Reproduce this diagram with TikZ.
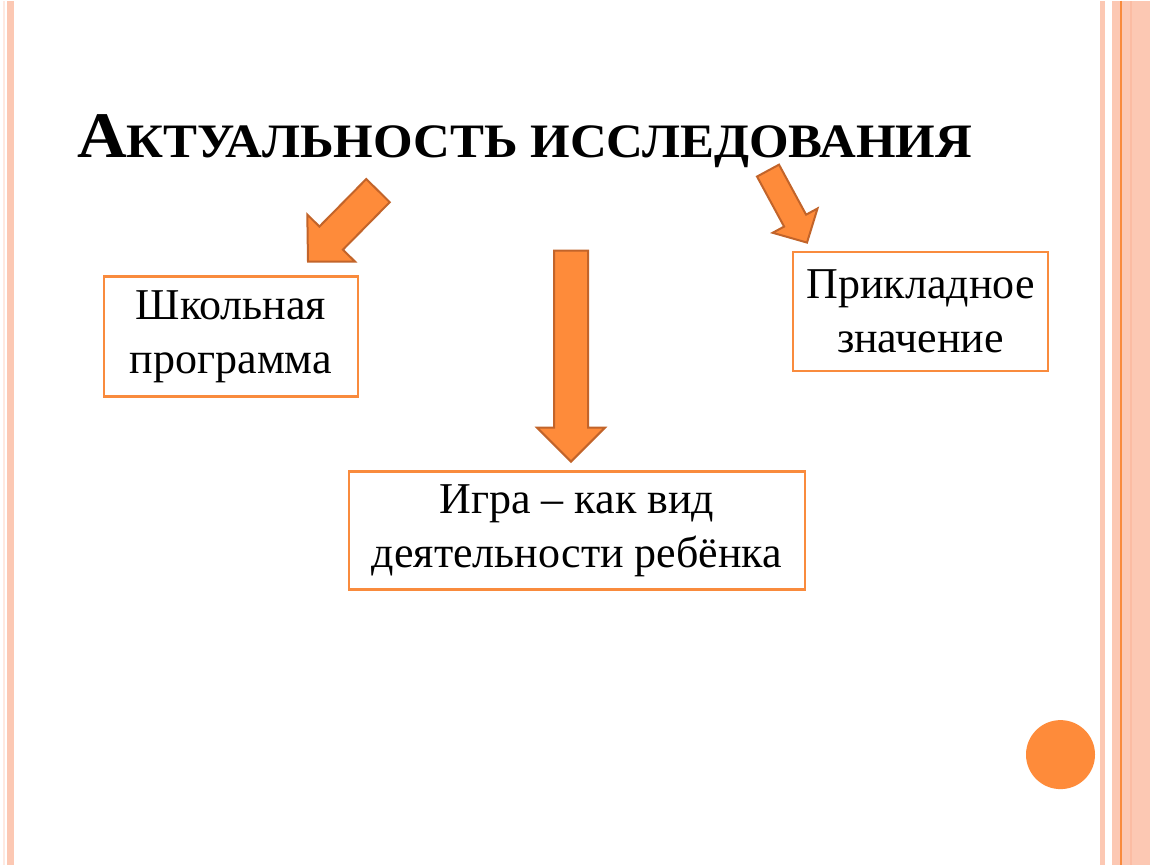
\documentclass[tikz,border=0pt]{standalone}
\usepackage{fontspec}
\setmainfont{Liberation Serif}
\newfontfamily\titlefont[FakeStretch=1.06]{Liberation Serif}
\usepackage{tikz}
\usetikzlibrary{calc}
\definecolor{stripe}{HTML}{FCC8B3}
\definecolor{stripedark}{HTML}{FBBCA3}
\definecolor{accent}{HTML}{F98B3D}
\definecolor{arrowfill}{HTML}{FE8B3A}
\definecolor{arrowline}{HTML}{C2642A}
\tikzstyle{textbox}=[draw=accent,line width=2.5pt,fill=white,align=center,inner sep=0pt,font=\fontsize{44}{54}\selectfont]
\tikzstyle{fatarrow}=[fill=arrowfill,draw=arrowline,line width=2pt,line join=miter]
% tail, tip, half shaft, half head, head length
\newcommand{\blockarrow}[5]{%
  \coordinate (hb) at ($(#2)!#5!(#1)$);
  \draw[fatarrow] ($(#1)!#3!90:(#2)$) -- ($(hb)!#3!90:(#2)$) -- ($(hb)!#4!90:(#2)$) -- (#2)
     -- ($(hb)!#4!-90:(#2)$) -- ($(hb)!#3!-90:(#2)$) -- ($(#1)!#3!-90:(#2)$) -- cycle;
}

\begin{document}
\begin{tikzpicture}[x=1pt, y=-1pt]

   \fill[white] (0,0) rectangle (1150,864);

   % side stripes
   \fill[stripe!40] (3,0) rectangle (5,864);
   \fill[stripe] (7,0) rectangle (14,864);
   \fill[stripe] (1100,0) rectangle (1105,864);
   \fill[stripe] (1112,0) rectangle (1150,864);
   \fill[stripedark] (1130,0) rectangle (1132,864);
   \draw[accent, line width=1.2pt] (1121,0) -- (1121,864);

  \node[anchor=base west, inner sep=0pt, font=\titlefont\bfseries] (title) at (77,157)
     {{\fontsize{65}{78}\selectfont А}{\fontsize{48}{58}\selectfont КТУАЛЬНОСТЬ ИССЛЕДОВАНИЯ}};

    \foreach \pos/\name/\w/\h/\txt in {{(231,336)/school/254/120/Школьная\\программа},
        {(920.5,311)/applied/255/119/Прикладное\\значение},
        {(577,530)/game/456/118/Игра – как вид\\деятельности ребёнка}}
        \node[textbox, minimum width=\w, minimum height=\h] (\name) at \pos {\txt};

  \coordinate (schooltail) at (378,190);
  \coordinate (schooltip) at (308,261);
  \coordinate (gametail) at (571,250);
  \coordinate (gametip) at (571,461);
  \coordinate (appliedtail) at (768,170);
  \coordinate (appliedtip) at (807,242);

    \foreach \tail/\tip/\shaft/\head/\len in {schooltail/schooltip/16.5pt/33.5pt/33pt,
        gametail/gametip/17pt/34pt/34pt, appliedtail/appliedtip/12.5pt/25.5pt/25pt}
        \blockarrow{\tail}{\tip}{\shaft}{\head}{\len};

  \node[circle, fill=arrowfill, minimum size=69pt, inner sep=0pt] (dot) at (1060.5,754) {};

\end{tikzpicture}
\end{document}
